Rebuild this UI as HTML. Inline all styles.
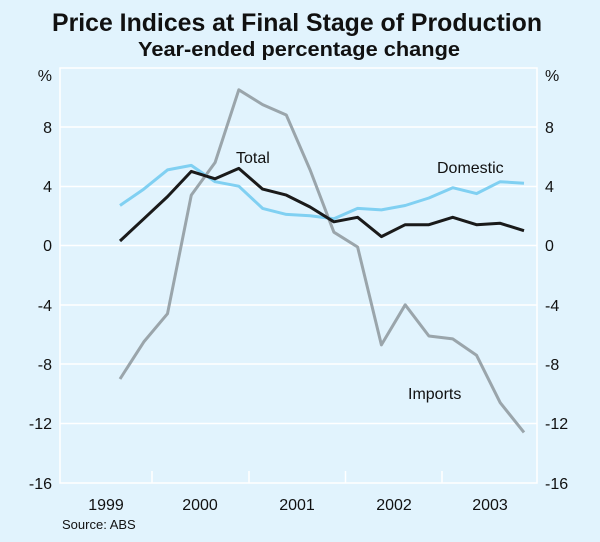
<!DOCTYPE html>
<html><head><meta charset="utf-8"><style>
html,body{margin:0;padding:0;background:#e1f3fd;}
svg{display:block;font-family:"Liberation Sans",Arial,sans-serif;}
</style></head><body>
<svg width="600" height="542" viewBox="0 0 600 542">
<rect width="600" height="542" fill="#e1f3fd"/>
<text x="297" y="31" font-size="25" font-weight="bold" text-anchor="middle" fill="#111" textLength="490" lengthAdjust="spacingAndGlyphs">Price Indices at Final Stage of Production</text>
<text x="299" y="56" font-size="20" font-weight="bold" text-anchor="middle" fill="#111" textLength="322" lengthAdjust="spacingAndGlyphs">Year-ended percentage change</text>
<g stroke="#fff" stroke-width="1.5" fill="none">
<rect x="60" y="68" width="477" height="415"/>
<line x1="60" y1="127" x2="537" y2="127"/>
<line x1="60" y1="186.5" x2="537" y2="186.5"/>
<line x1="60" y1="245.5" x2="537" y2="245.5"/>
<line x1="60" y1="305" x2="537" y2="305"/>
<line x1="60" y1="364" x2="537" y2="364"/>
<line x1="60" y1="423.5" x2="537" y2="423.5"/>
<line x1="152" y1="483" x2="152" y2="471"/>
<line x1="249" y1="483" x2="249" y2="471"/>
<line x1="345.5" y1="483" x2="345.5" y2="471"/>
<line x1="442" y1="483" x2="442" y2="471"/>
</g>
<g font-size="16" fill="#111">
<text x="52" y="81" text-anchor="end">%</text>
<text x="52" y="133" text-anchor="end">8</text>
<text x="52" y="192" text-anchor="end">4</text>
<text x="52" y="251" text-anchor="end">0</text>
<text x="52" y="311" text-anchor="end">-4</text>
<text x="52" y="370" text-anchor="end">-8</text>
<text x="52" y="429" text-anchor="end">-12</text>
<text x="52" y="489" text-anchor="end">-16</text>
<text x="545" y="81">%</text>
<text x="545" y="133">8</text>
<text x="545" y="192">4</text>
<text x="545" y="251">0</text>
<text x="545" y="311">-4</text>
<text x="545" y="370">-8</text>
<text x="545" y="429">-12</text>
<text x="545" y="489">-16</text>
<text x="106" y="510" text-anchor="middle">1999</text>
<text x="200" y="510" text-anchor="middle">2000</text>
<text x="297" y="510" text-anchor="middle">2001</text>
<text x="394" y="510" text-anchor="middle">2002</text>
<text x="490" y="510" text-anchor="middle">2003</text>
<text x="236" y="163">Total</text>
<text x="437" y="173">Domestic</text>
<text x="408" y="399">Imports</text>
</g>
<text x="62" y="529" font-size="13" fill="#111">Source: ABS</text>
<g fill="none" stroke-width="3" stroke-linejoin="round">
<polyline stroke="#9aa5ab" points="120,379 143.8,341.9 167.5,313.7 191.3,195.1 215.1,162.5 238.8,89.8 262.6,104.6 286.3,115 310.1,169.9 333.9,232.2 357.6,247 381.4,344.9 405.2,304.8 428.9,336 452.7,338.9 476.5,355.2 500.2,402.7 524,432.4"/>
<polyline stroke="#80d0f2" points="120,205.5 143.8,189.1 167.5,169.9 191.3,165.4 215.1,181.7 238.8,186.2 262.6,208.4 286.3,214.4 310.1,215.8 333.9,218.8 357.6,208.4 381.4,209.9 405.2,205.5 428.9,198 452.7,187.7 476.5,193.6 500.2,181.7 524,183.2"/>
<polyline stroke="#1a1a1a" points="120,241 143.8,218.8 167.5,196.6 191.3,171.4 215.1,178.8 238.8,168.4 262.6,189.1 286.3,195.1 310.1,207 333.9,221.8 357.6,217.3 381.4,236.6 405.2,224.7 428.9,224.7 452.7,217.3 476.5,224.7 500.2,223.3 524,230.7"/>
</g>
</svg>
</body></html>
